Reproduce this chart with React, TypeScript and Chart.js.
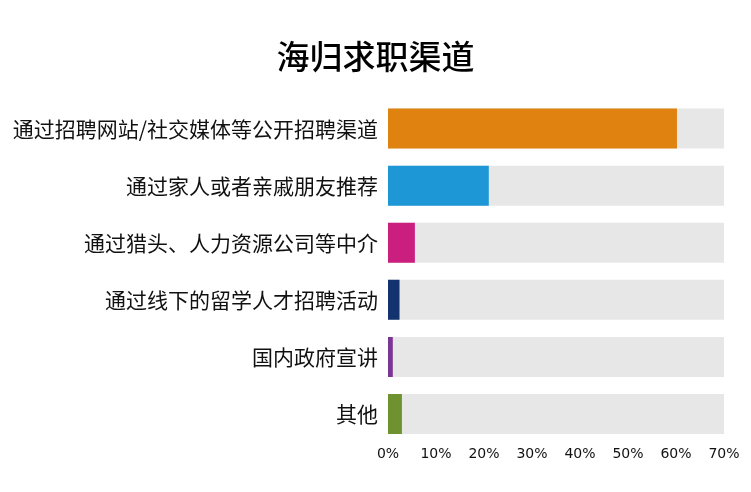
import React, { useEffect, useRef } from "react";
import { Chart, registerables } from "chart.js";

Chart.register(...registerables);

const categories = [
  "通过招聘网站/社交媒体等公开招聘渠道",
  "通过家人或者亲戚朋友推荐",
  "通过猎头、人力资源公司等中介",
  "通过线下的留学人才招聘活动",
  "国内政府宣讲",
  "其他",
];
const values = [60.2, 21.0, 5.6, 2.4, 1.0, 2.9];
const fullScale = [70, 70, 70, 70, 70, 70];
const barColors = ["#e0820f", "#1e97d6", "#cb1f7f", "#13336e", "#7b3595", "#6f9230"];
const title = "海归求职渠道";

export default function App() {
  const ref = useRef<HTMLCanvasElement | null>(null);
  useEffect(() => {
    document.body.style.margin = "0";
    const canvas = ref.current;
    if (!canvas) return;
    const chart = new Chart(canvas, {
      type: "bar",
      data: {
        labels: categories,
        datasets: [
          {
            data: values,
            backgroundColor: barColors,
            grouped: false,
            order: 1,
            barPercentage: 0.7,
            categoryPercentage: 1,
          },
          {
            data: fullScale,
            backgroundColor: "#e6e7e6",
            grouped: false,
            order: 2,
            barPercentage: 0.7,
            categoryPercentage: 1,
          },
        ],
      },
      options: {
        indexAxis: "y",
        animation: false,
        responsive: false,
        maintainAspectRatio: false,
        layout: { padding: { left: 0, right: 0, top: 0, bottom: 0 } },
        plugins: {
          legend: { display: false },
          tooltip: { enabled: false },
          title: {
            display: true,
            text: title,
            color: "#000",
            font: { family: "'Noto Sans CJK SC'", size: 33, weight: "500", lineHeight: 1.2 },
            padding: { top: 37, bottom: 23.4 },
          },
        },
        scales: {
          x: {
            min: 0,
            max: 70,
            grid: { display: false, drawTicks: false },
            border: { display: false },
            ticks: {
              stepSize: 10,
              padding: 3,
              color: "#111",
              font: { family: "'DejaVu Sans'", size: 14 },
              callback: (v: any) => v + "%",
            },
            afterFit: (scale: any) => {
              scale.height = 49.4;
            },
          },
          y: {
            grid: { display: false, drawTicks: false },
            border: { display: false },
            ticks: {
              padding: 10,
              color: "#111",
              font: { family: "'Noto Sans CJK SC'", size: 21 },
            },
            afterFit: (scale: any) => {
              scale.width = 388;
            },
          },
          yRight: {
            axis: "y",
            type: "category",
            position: "right",
            display: true,
            grid: { display: false, drawTicks: false },
            border: { display: false },
            ticks: { display: false },
            afterFit: (scale: any) => {
              scale.width = 27;
            },
          },
        },
      },
    });
    return () => chart.destroy();
  }, []);
  return <canvas ref={ref} width={751} height={492} style={{ display: "block" }} />;
}
